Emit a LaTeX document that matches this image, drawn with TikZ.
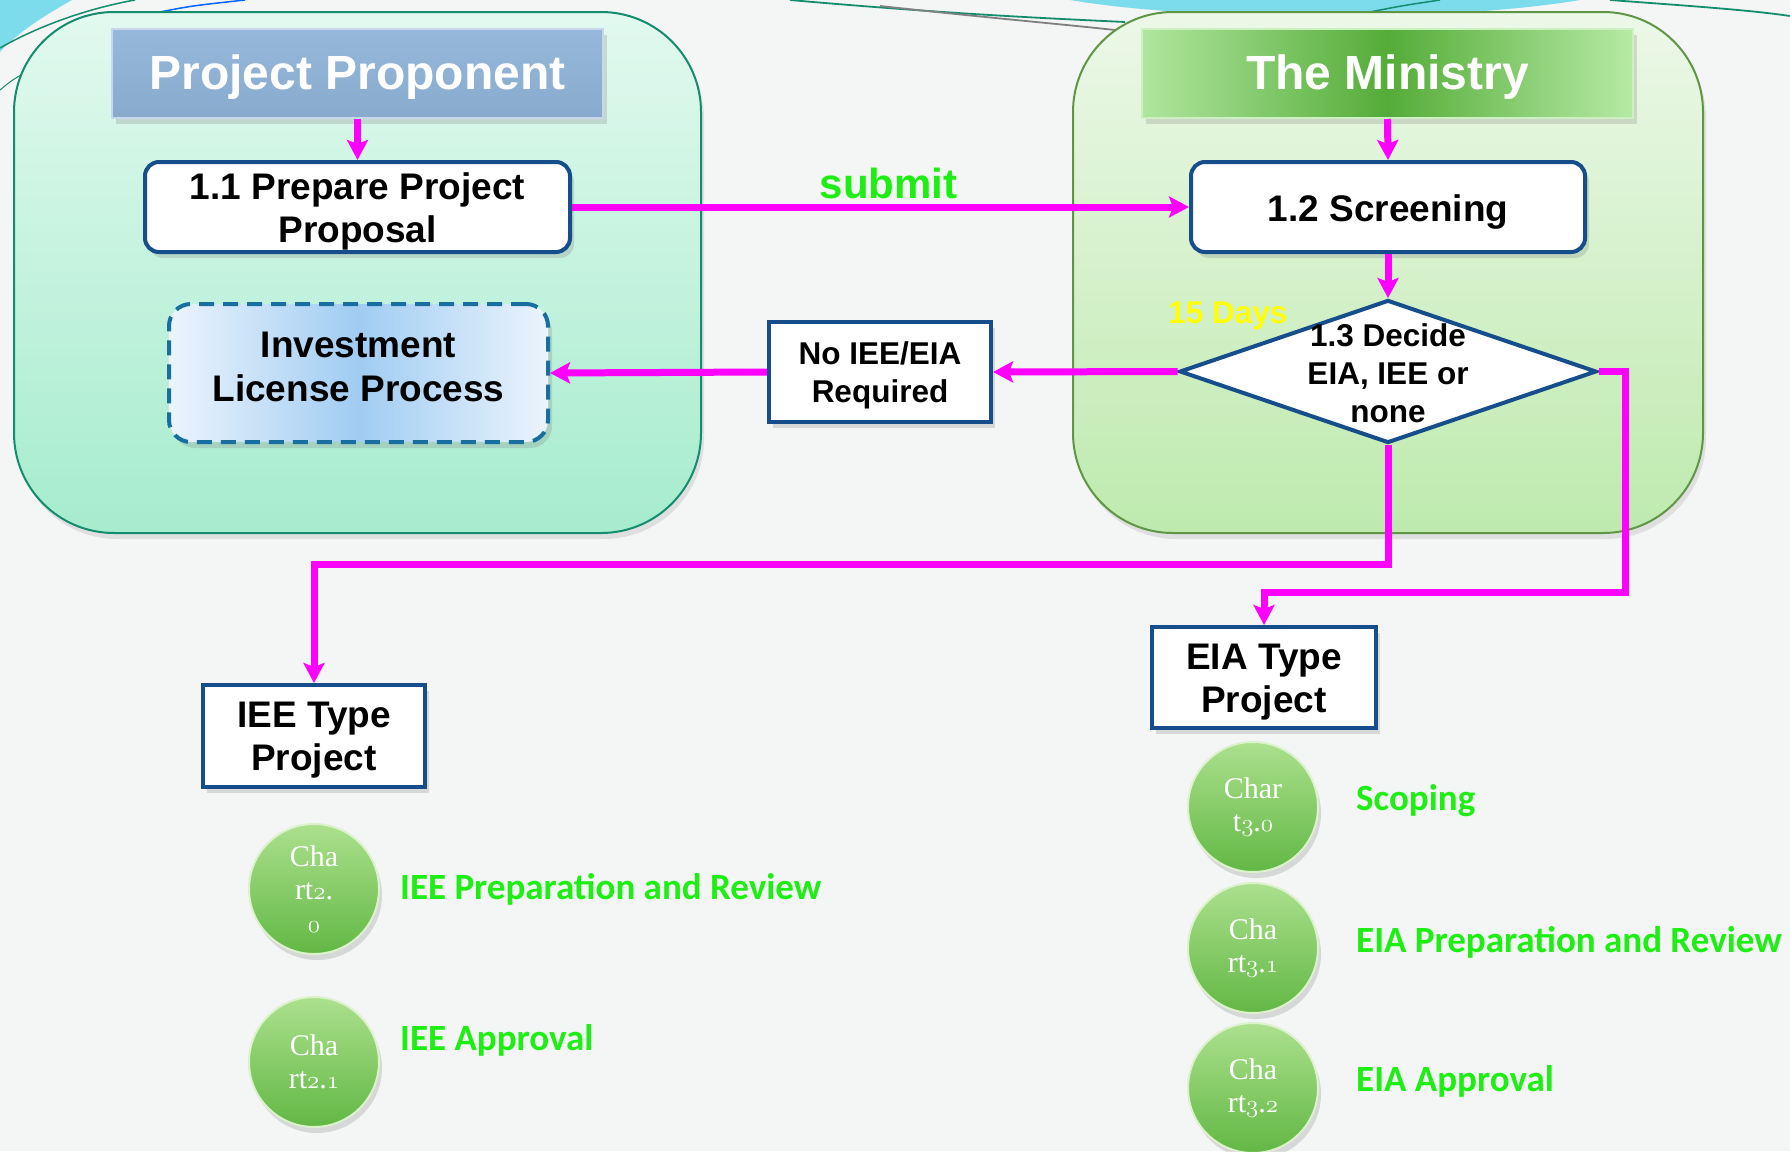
\documentclass[tikz,border=0pt]{standalone}
\usepackage{fontspec}
\newfontfamily\arial{Liberation Sans}
\newfontfamily\calib{Carlito}
\newfontfamily\tms{Liberation Serif}
\usetikzlibrary{arrows.meta,shapes.geometric,shadows}
\newcommand\osn[1]{{\fontsize{35}{33}\usefont{OML}{lmm}{b}{it}#1}}
\definecolor{mag}{RGB}{255,0,255}
\definecolor{bblue}{RGB}{22,78,140}
\definecolor{lime}{RGB}{30,238,20}
\definecolor{yel}{RGB}{255,255,0}
\definecolor{bg}{RGB}{244,245,245}
\definecolor{tealb}{RGB}{20,140,110}
\definecolor{grnb}{RGB}{95,150,70}
\definecolor{cyanf}{RGB}{125,220,235}
\begin{document}
\begin{tikzpicture}[x=1pt,y=-1pt,
  flow/.style={draw=mag, line width=7pt, -{Stealth[length=20pt,width=21pt,inset=4pt]}},
  shad/.style={drop shadow={shadow xshift=4pt, shadow yshift=-6pt, opacity=0.25}},
  proc/.style={draw=bblue, line width=4pt, fill=white, rounded corners=14pt, inner sep=0pt, shad},
  sqbox/.style={draw=bblue, line width=4pt, fill=white, inner sep=0pt, shad},
  btxt/.style={align=center, inner sep=0pt, font=\arial\bfseries\fontsize{37}{43}\selectfont},
  stxt/.style={align=center, inner sep=0pt, font=\arial\bfseries\fontsize{31.5}{38}\selectfont},
  header/.style={inner sep=0pt, shad},
  htxt/.style={inner sep=0pt, text=white, font=\arial\bfseries\fontsize{48}{56}\selectfont},
  panel/.style={rounded corners=100pt, line width=2pt, inner sep=0pt,
    drop shadow={shadow xshift=3pt, shadow yshift=-6pt, opacity=0.18}},
  ball/.style={circle, minimum size=130pt, inner sep=0pt, draw={rgb,255:red,220;green,242;blue,205}, line width=2pt,
    top color={rgb,255:red,172;green,224;blue,142}, bottom color={rgb,255:red,98;green,184;blue,68},
    text=white, align=center, font=\tms\fontsize{30}{33}\selectfont,
    drop shadow={shadow xshift=3pt, shadow yshift=-6pt, opacity=0.25}},
  glabel/.style={anchor=west, inner sep=0pt, text=lime, font=\calib\bfseries\fontsize{37}{44}\selectfont},
]
\fill[bg] (0,0) rectangle (1790,1151);
\useasboundingbox (0,0) rectangle (1790,1151);

% top decorations
\fill[cyanf] (0,0) -- (72,0) .. controls (40,18) and (15,35) .. (0,52) -- cycle;
\draw[tealb, line width=1.5pt] (0,48) .. controls (40,25) and (90,8) .. (135,0);
\draw[blue!60!cyan, line width=1.5pt] (150,14) .. controls (190,6) .. (245,0);
\draw[tealb, line width=1pt] (0,90) .. controls (12,80) .. (30,70);
\fill[cyanf] (1070,0) .. controls (1200,22) and (1450,22) .. (1580,0) -- cycle;
\draw[tealb, line width=1.8pt] (790,0) .. controls (950,14) and (1040,18) .. (1125,22);
\draw[gray, line width=1.8pt] (880,6) .. controls (990,18) and (1060,24) .. (1115,30);
\draw[tealb, line width=1.5pt] (1360,14) .. controls (1400,6) .. (1440,0);
\draw[tealb, line width=1.8pt] (1610,0) .. controls (1690,6) and (1750,10) .. (1790,16);

% panels
\node[panel, draw=tealb, top color={rgb,255:red,226;green,249;blue,239}, bottom color={rgb,255:red,166;green,236;blue,206},
  minimum width=687pt, minimum height=521pt] (lp) at (357.5,272.5) {};
\node[panel, draw=grnb, top color={rgb,255:red,236;green,248;blue,232}, bottom color={rgb,255:red,190;green,234;blue,174},
  minimum width=630pt, minimum height=521pt] (rp) at (1388,272.5) {};

% headers
\node[header, draw={rgb,255:red,200;green,215;blue,235}, line width=2pt,
  top color={rgb,255:red,150;green,184;blue,218}, bottom color={rgb,255:red,136;green,170;blue,205},
  minimum width=491pt, minimum height=89pt] (pp) at (357.5,73.5) {};
\node[htxt] (ppt) at ([yshift=-4pt]pp.center) {Project Proponent};
\node[header, draw={rgb,255:red,205;green,240;blue,195}, line width=2pt,
  left color={rgb,255:red,176;green,230;blue,158}, right color={rgb,255:red,182;green,234;blue,164},
  middle color={rgb,255:red,84;green,172;blue,56},
  minimum width=491pt, minimum height=89pt] (mn) at (1387.5,73.5) {};
\node[htxt] (mnt) at ([yshift=-4pt]mn.center) {The Ministry};

% process boxes
\node[proc, minimum width=425pt, minimum height=90pt] (p11) at (357.5,207) {};
\node[btxt] (p11t) at ([yshift=-4pt]p11.center) {1.1 Prepare Project\\Proposal};
\node[proc, minimum width=394pt, minimum height=90pt] (p12) at (1388,207) {};
\node[btxt] (p12t) at ([yshift=-5pt]p12.center) {1.2 Screening};
\node[diamond, draw=bblue, line width=4pt, fill=white, minimum width=417pt, minimum height=143pt, inner sep=0pt] (dec) at (1388,371.5) {};

\node[sqbox, minimum width=222pt, minimum height=100pt] (noreq) at (880,372) {};
\node[stxt] (noreqt) at ([yshift=-3.5pt]noreq.center) {No IEE/EIA\\Required};
\node[draw={rgb,255:red,25;green,110;blue,160}, line width=4pt, dash pattern=on 15pt off 9pt, rounded corners=22pt,
  left color={rgb,255:red,236;green,244;blue,253}, right color={rgb,255:red,236;green,244;blue,253},
  middle color={rgb,255:red,160;green,204;blue,242},
  minimum width=379pt, minimum height=138pt, inner sep=0pt, shad] (inv) at (358.5,373) {};
\node[btxt, font=\arial\bfseries\fontsize{37}{44}\selectfont] (invt) at ([yshift=6pt]inv.center) {Investment\\License Process};

\node[sqbox, minimum width=222pt, minimum height=102pt] (iee) at (314,736) {};
\node[btxt] (ieet) at ([yshift=-4pt]iee.center) {IEE Type\\Project};
\node[sqbox, minimum width=224pt, minimum height=101pt] (eia) at (1264,677.5) {};
\node[btxt] (eiat) at ([yshift=-5pt]eia.center) {EIA Type\\Project};

% chart balls
\node[ball] (c20) at (314,889) {Cha\\rt\osn{2}.\\\osn{0}};
\node[ball] (c21) at (314,1062) {Cha\\rt\osn{2}.\osn{1}};
\node[ball] (c30) at (1253,807) {Char\\t\osn{3}.\osn{0}};
\node[ball] (c31) at (1253,948) {Cha\\rt\osn{3}.\osn{1}};
\node[ball] (c32) at (1253,1088) {Cha\\rt\osn{3}.\osn{2}};

\node[glabel] (l20) at (400,889) {IEE Preparation and Review};
\node[glabel] (l21) at (400,1040) {IEE Approval};
\node[glabel] (l30) at (1356,801) {Scoping};
\node[glabel] (l31) at (1356,942) {EIA Preparation and Review};
\node[glabel] (l32) at (1356,1081) {EIA Approval};

% connectors
\coordinate (j1) at (1388,564);
\coordinate (j2) at (1625,592.5);
\draw[flow] (pp.south) -- (p11.north);
\draw[flow] (mn.south) -- (p12.north);
\draw[flow] (p11.east) -- node[pos=0.513, above=5pt, inner sep=0pt, text=lime, font=\arial\bfseries\fontsize{42}{50}\selectfont] (sub) {submit} (p12.west);
\draw[flow] (p12.south) -- (dec.north);
\draw[flow] (dec.west) -- (noreq.east);
\draw[flow] (noreq.west) -- (inv.east);
\draw[flow] (dec.south) -- (j1) -| (iee.north);
\draw[flow] (dec.east) -| (j2) -| (eia.north);
\node[stxt] (dect) at ([yshift=-2pt]dec.center) {1.3 Decide\\EIA, IEE or\\none};
\node[inner sep=0pt, text=yel, font=\arial\bfseries\fontsize{31.5}{38}\selectfont] (days) at (1228,316) {15 Days};
\end{tikzpicture}
\end{document}
